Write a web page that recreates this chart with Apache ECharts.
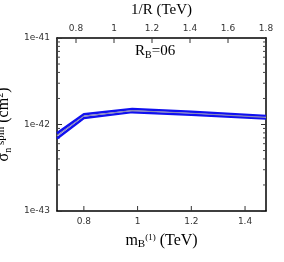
<!DOCTYPE html>
<html><head><meta charset="utf-8">
<script src="https://cdn.jsdelivr.net/npm/echarts@6/dist/echarts.min.js"></script>
<style>html,body{margin:0;padding:0;background:#fff}#c{width:284px;height:262px}</style>
</head><body><div id="c"></div>
<script>
// cross sections in units of 1e-42 cm^2
var mass = [0.7, 0.8, 0.98, 1.2, 1.478];
var upper = [0.79, 1.31, 1.51, 1.40, 1.25];
var center = [0.74, 1.25, 1.45, 1.35, 1.21];
var lower = [0.69, 1.19, 1.39, 1.30, 1.17];
var bottomTicks = [0.8, 1, 1.2, 1.4];
var topTicks = [0.8, 1, 1.2, 1.4, 1.6, 1.8];
var minorTickValues = [0.2,0.3,0.4,0.5,0.6,0.7,0.8,0.9,2,3,4,5,6,7,8,9];
var yLabels = {'0.1':'1e-43','1':'1e-42','10':'1e-41'};
var xMin = 0.7, xMax = 1.478, topMin = 0.7, topMax = 1.8, yMin = 0.1, yMax = 10;

function pairs(ys){ return mass.map(function(x,i){return [x, ys[i]];}); }
var serif = '"Liberation Serif","DejaVu Serif",serif';
var chart = echarts.init(document.getElementById('c'), null, {renderer:'canvas'});
function makeFmt(list){
  return function(v){
    var ok = list.some(function(t){return Math.abs(t-v)<1e-6;});
    return ok ? String(+(+v).toFixed(1)) : '';
  };
}
function tickSeries(list, xIdx, yVal, dir){
  return {type:'custom', xAxisIndex:xIdx, yAxisIndex:0, silent:true, z:1,
    data:list.map(function(v){return [v, yVal];}),
    renderItem:function(params, api){
      var p = api.coord([api.value(0), yVal]);
      return {type:'line', shape:{x1:p[0],y1:p[1],x2:p[0],y2:p[1]+dir*5}, style:{stroke:'#333',lineWidth:1}};
    }};
}
var yRich = {
  s:{fontFamily:serif,fontSize:16,color:'#000',lineHeight:18,verticalAlign:'middle'},
  sub:{fontFamily:serif,fontSize:10,color:'#000',lineHeight:18,verticalAlign:'bottom'},
  sup:{fontFamily:serif,fontSize:11,color:'#000',lineHeight:18,verticalAlign:'top'},
  sup2:{fontFamily:serif,fontSize:10,color:'#000',lineHeight:18,verticalAlign:'top'}
};
chart.setOption({
  animation:false,
  grid:{left:57, right:18, top:38, bottom:51, containLabel:false, outerBoundsMode:'none'},
  title:{text:'{s|R}{sub|B}{s|=06}', left:130, top:37,
    textStyle:{fontWeight:'normal',rich:{s:{fontFamily:serif,fontSize:15,color:'#000'},sub:{fontFamily:serif,fontSize:10,color:'#000',padding:[8,0,0,0]}}}},
  xAxis:[{
    type:'value', min:xMin, max:xMax, interval:0.1, position:'bottom',
    name:'{s|m}{sub|B}{sup|(1)}{s| (TeV)}', nameLocation:'middle', nameGap:20,
    nameTextStyle:{rich:{s:{fontFamily:serif,fontSize:16,color:'#000'},sub:{fontFamily:serif,fontSize:11,color:'#000',padding:[8,0,0,0]},sup:{fontFamily:serif,fontSize:9,color:'#000',padding:[0,0,6,0]}}},
    axisLine:{lineStyle:{color:'#000',width:1.5}},
    axisTick:{show:false},
    axisLabel:{fontSize:9,color:'#333',fontFamily:'"DejaVu Sans",sans-serif',margin:6,formatter:makeFmt(bottomTicks)},
    splitLine:{show:false}
  },{
    type:'value', min:topMin, max:topMax, interval:0.1, position:'top',
    name:'1/R (TeV)', nameLocation:'middle', nameGap:20,
    nameTextStyle:{fontFamily:serif,fontSize:15,color:'#000'},
    axisLine:{lineStyle:{color:'#000',width:1.5}},
    axisTick:{show:false},
    axisLabel:{fontSize:9,color:'#333',fontFamily:'"DejaVu Sans",sans-serif',margin:5,formatter:makeFmt(topTicks)},
    splitLine:{show:false}
  }],
  yAxis:[{
    type:'log', min:yMin, max:yMax, logBase:10,
    name:'{s|σ}{sub|n}{sup| spin}{s| (cm}{sup2|2}{s|)}', nameLocation:'middle', nameGap:37, nameRotate:90,
    nameTextStyle:{rich:yRich},
    axisLine:{lineStyle:{color:'#000',width:1.5}},
    axisTick:{inside:true,length:5,lineStyle:{color:'#333'}},
    axisLabel:{fontSize:9,color:'#333',fontFamily:'"DejaVu Sans",sans-serif',margin:7,
      formatter:function(v){return yLabels[String(+(+v).toPrecision(3))] || '';}},
    splitLine:{show:false}
  },{
    type:'log', min:yMin, max:yMax, logBase:10, position:'right',
    axisLine:{show:true,lineStyle:{color:'#000',width:1.5}},
    axisTick:{inside:true,length:5,lineStyle:{color:'#333'}},
    axisLabel:{show:false}, splitLine:{show:false}
  }],
  series:[
    {type:'custom', xAxisIndex:0, yAxisIndex:0, silent:true, z:1,
     data:minorTickValues.map(function(v){return [xMin, v];}),
     renderItem:function(params, api){
       var v = api.value(1);
       var pL = api.coord([xMin, v]); var pR = api.coord([xMax, v]);
       return {type:'group', children:[
         {type:'line', shape:{x1:pL[0],y1:pL[1],x2:pL[0]+3,y2:pL[1]}, style:{stroke:'#444',lineWidth:1}},
         {type:'line', shape:{x1:pR[0],y1:pR[1],x2:pR[0]-3,y2:pR[1]}, style:{stroke:'#444',lineWidth:1}}
       ]};
     }},
    tickSeries(bottomTicks, 0, yMin, -1),
    tickSeries(topTicks, 1, yMax, 1),
    {type:'line', data:pairs(upper), symbol:'none', lineStyle:{color:'#1010f0',width:2.5}, z:3},
    {type:'line', data:pairs(lower), symbol:'none', lineStyle:{color:'#1010f0',width:2.5}, z:3},
    {type:'line', data:pairs(center), symbol:'none', lineStyle:{color:'#8a8ab8',width:1.2}, z:4}
  ]
});
</script></body></html>
